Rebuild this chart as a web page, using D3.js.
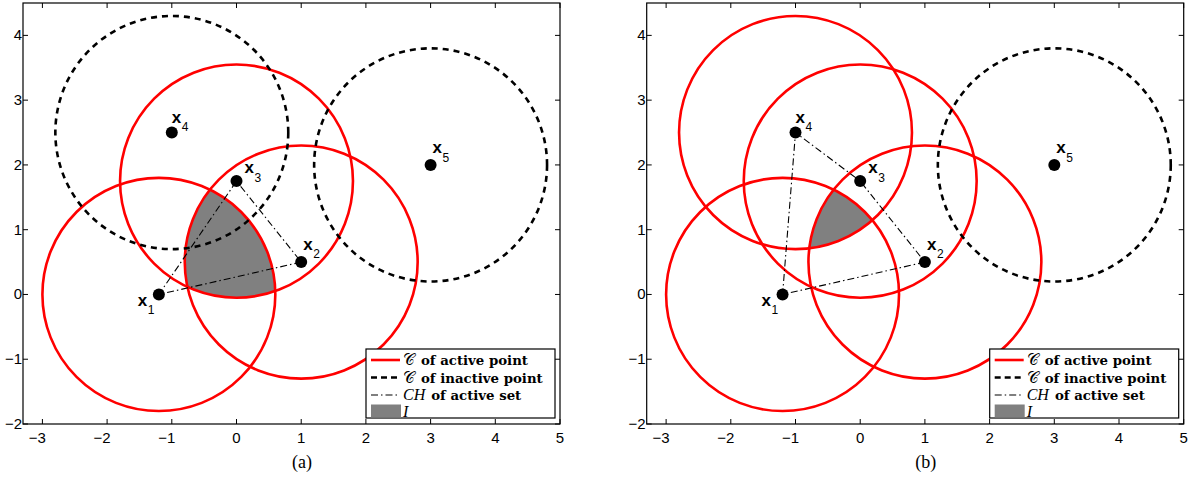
<!DOCTYPE html>
<html>
<head>
<meta charset="utf-8">
<script src="https://cdn.jsdelivr.net/npm/d3@7/dist/d3.min.js"></script>
<style>
  body { margin: 0; background: #fff; }
  svg { display: block; }
</style>
</head>
<body>
<div id="chart"></div>
<script>
// point data
const pointNames = ["1", "2", "3", "4", "5"];
const pointX = [-1.2, 1, 0, -1, 3];
const pointY = [0, 0.5, 1.75, 2.5, 2];
const radius = 1.8;

// which points are active in each panel
const activeA = [true, true, true, false, false];
const activeB = [true, true, true, true, false];
const captions = ["(a)", "(b)"];

const xTicks = [-3, -2, -1, 0, 1, 2, 3, 4, 5];
const yTicks = [-2, -1, 0, 1, 2, 3, 4];
const xDomain = [-3.3, 5];
const yDomain = [-2, 4.5];

const legendLabels = [
  { math: "\u{1D49E}", rest: "of active point", italic: false },
  { math: "\u{1D49E}", rest: "of inactive point", italic: false },
  { math: "CH", rest: "of active set", italic: true },
  { math: "I", rest: "", italic: true },
];

// label offsets for x_i (pixels): [dx of x, dy of x baseline, dx of sub, dy of sub baseline]
const labelOffsets = [
  [-21, 12, -11, 20],
  [2, -12, 12, -4],
  [8, -8, 18, 1],
  [0, -10, 10, -2],
  [2, -12, 12, -3],
];

const sans = "Liberation Sans, Arial, Helvetica, sans-serif";
const serif = "Liberation Serif, Times New Roman, serif";
const boldSerif = "DejaVu Serif, serif";

const W = 1194, H = 478;
const plotW = 537, plotH = 421;
const panelLeft = [23, 646.7];
const plotTop = 3;

const svg = d3
  .select("#chart")
  .append("svg")
  .attr("width", W)
  .attr("height", H);

const points = pointX.map((x, i) => ({ x: x, y: pointY[i], name: pointNames[i] }));

// intersection of all active disks, as a convex polygon in data coords
function intersection(active) {
  const cs = points.filter((p, i) => active[i]);
  const pts = [];
  const n = 2880;
  cs.forEach((c) => {
    for (let k = 0; k < n; k++) {
      const a = (2 * Math.PI * k) / n;
      const px = c.x + radius * Math.cos(a);
      const py = c.y + radius * Math.sin(a);
      const inside = cs.every(
        (o) => (px - o.x) ** 2 + (py - o.y) ** 2 <= radius * radius + 1e-9
      );
      if (inside) pts.push([px, py]);
    }
  });
  return d3.polygonHull(pts);
}

function drawPanel(idx, active) {
  const g = svg
    .append("g")
    .attr("transform", `translate(${panelLeft[idx]},${plotTop})`);

  const x = d3.scaleLinear().domain(xDomain).range([0, plotW]);
  const y = d3.scaleLinear().domain(yDomain).range([plotH, 0]);

  g.append("defs")
    .append("clipPath")
    .attr("id", "clip" + idx)
    .append("rect")
    .attr("width", plotW)
    .attr("height", plotH);

  const plot = g.append("g").attr("clip-path", `url(#clip${idx})`);

  // shaded intersection I
  const poly = intersection(active);
  plot
    .append("path")
    .attr("d", d3.line().x((d) => x(d[0])).y((d) => y(d[1]))(poly) + "Z")
    .attr("fill", "#808080")
    .attr("stroke", "none");

  const rx = x(radius) - x(0);
  const ry = y(0) - y(radius);

  plot
    .selectAll("ellipse.circ")
    .data(points)
    .enter()
    .append("ellipse")
    .attr("class", "circ")
    .attr("cx", (d) => x(d.x))
    .attr("cy", (d) => y(d.y))
    .attr("rx", rx)
    .attr("ry", ry)
    .attr("fill", "none")
    .attr("stroke", (d, i) => (active[i] ? "#ff0000" : "#000"))
    .attr("stroke-width", 2.6)
    .attr("stroke-dasharray", (d, i) => (active[i] ? null : "6,5"));

  // convex hull of active set
  const hull = d3.polygonHull(points.filter((p, i) => active[i]).map((p) => [p.x, p.y]));
  plot
    .append("path")
    .attr("d", d3.line().x((d) => x(d[0])).y((d) => y(d[1]))(hull) + "Z")
    .attr("fill", "none")
    .attr("stroke", "#000")
    .attr("stroke-width", 1.1)
    .attr("stroke-dasharray", "7,3,1.5,3");

  // points
  plot
    .selectAll("circle.pt")
    .data(points)
    .enter()
    .append("circle")
    .attr("class", "pt")
    .attr("cx", (d) => x(d.x))
    .attr("cy", (d) => y(d.y))
    .attr("r", 6)
    .attr("fill", "#000");

  const labels = g
    .selectAll("g.plabel")
    .data(points)
    .enter()
    .append("g")
    .attr("class", "plabel")
    .attr("transform", (d) => `translate(${x(d.x)},${y(d.y)})`);
  labels
    .append("text")
    .attr("x", (d, i) => labelOffsets[i][0])
    .attr("y", (d, i) => labelOffsets[i][1])
    .attr("font-family", sans)
    .attr("font-weight", "bold")
    .attr("font-size", 17)
    .text("x");
  labels
    .append("text")
    .attr("x", (d, i) => labelOffsets[i][2])
    .attr("y", (d, i) => labelOffsets[i][3])
    .attr("font-family", sans)
    .attr("font-size", 12)
    .text((d) => d.name);

  // axes box with inward ticks
  const tickLen = 5;
  const fmt = (v) => (v < 0 ? "\u2212" + Math.abs(v) : String(v));

  g.append("rect")
    .attr("width", plotW)
    .attr("height", plotH)
    .attr("fill", "none")
    .attr("stroke", "#000")
    .attr("stroke-width", 1.2);

  xTicks.forEach((t) => {
    g.append("line")
      .attr("x1", x(t)).attr("x2", x(t))
      .attr("y1", plotH).attr("y2", plotH - tickLen)
      .attr("stroke", "#000");
    g.append("line")
      .attr("x1", x(t)).attr("x2", x(t))
      .attr("y1", 0).attr("y2", tickLen)
      .attr("stroke", "#000");
    g.append("text")
      .attr("x", x(t) - (t < 0 ? 5 : 0))
      .attr("y", plotH + 19)
      .attr("text-anchor", "middle")
      .attr("font-family", sans)
      .attr("font-size", 15)
      .text(fmt(t));
  });

  yTicks.forEach((t) => {
    g.append("line")
      .attr("x1", 0).attr("x2", tickLen)
      .attr("y1", y(t)).attr("y2", y(t))
      .attr("stroke", "#000");
    g.append("line")
      .attr("x1", plotW).attr("x2", plotW - tickLen)
      .attr("y1", y(t)).attr("y2", y(t))
      .attr("stroke", "#000");
    g.append("text")
      .attr("x", -1)
      .attr("y", y(t) + 5)
      .attr("text-anchor", "end")
      .attr("font-family", sans)
      .attr("font-size", 15)
      .text(fmt(t));
  });

  // legend
  const lg = g.append("g").attr("transform", `translate(${plotW - 194},${plotH - 75})`);
  lg.append("rect")
    .attr("width", 189)
    .attr("height", 69)
    .attr("fill", "#fff")
    .attr("stroke", "#000")
    .attr("stroke-width", 1.2);

  const rowY = [11, 28.5, 46, 62.5];
  lg.append("line")
    .attr("x1", 5).attr("x2", 34).attr("y1", rowY[0]).attr("y2", rowY[0])
    .attr("stroke", "#ff0000").attr("stroke-width", 2.6);
  lg.append("line")
    .attr("x1", 5).attr("x2", 34).attr("y1", rowY[1]).attr("y2", rowY[1])
    .attr("stroke", "#000").attr("stroke-width", 2.6).attr("stroke-dasharray", "6,4");
  lg.append("line")
    .attr("x1", 5).attr("x2", 34).attr("y1", rowY[2]).attr("y2", rowY[2])
    .attr("stroke", "#000").attr("stroke-width", 1.1).attr("stroke-dasharray", "7,3,1.5,3");
  lg.append("rect")
    .attr("x", 5).attr("y", rowY[3] - 7).attr("width", 30).attr("height", 13)
    .attr("fill", "#808080");

  legendLabels.forEach((l, i) => {
    const t = lg.append("text")
      .attr("x", 37)
      .attr("y", rowY[i] + 5);
    t.append("tspan")
      .attr("font-family", serif)
      .attr("font-size", 16)
      .attr("font-style", l.italic ? "italic" : "normal")
      .text(l.math);
    t.append("tspan")
      .attr("dx", 6)
      .attr("font-family", boldSerif)
      .attr("font-weight", "bold")
      .attr("font-size", 13.3)
      .text(l.rest);
  });

  g.append("text")
    .attr("x", 279)
    .attr("y", plotH + 44)
    .attr("text-anchor", "middle")
    .attr("font-family", serif)
    .attr("font-size", 18)
    .text(captions[idx]);
}

drawPanel(0, activeA);
drawPanel(1, activeB);
</script>
</body>
</html>
